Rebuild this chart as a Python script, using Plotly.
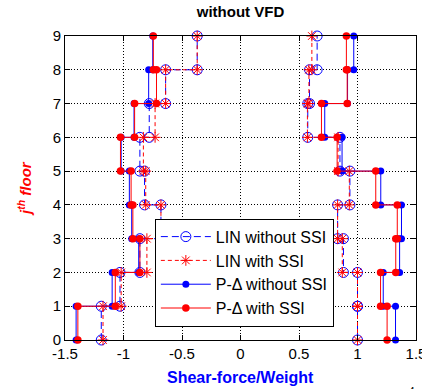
import plotly.graph_objects as go

# Storey shear envelopes (units of 1e-4 of building weight), storeys 1..9
floors = list(range(10))
x_ticks = [-1.5, -1.0, -0.5, 0.0, 0.5, 1.0, 1.5]
x_tick_labels = ["-1.5", "-1", "-0.5", "0", "0.5", "1", "1.5"]

lin_nossi_neg = [-1.19, -1.03, -0.86, -0.68, -0.82, -0.86, -0.78, -0.64, -0.37]
lin_nossi_pos = [1.00, 1.00, 0.88, 0.83, 0.935, 0.85, 0.575, 0.59, 0.655]

lin_ssi_neg = [-1.175, -1.02, -0.80, -0.68, -0.81, -0.83, -0.73, -0.64, -0.37]
lin_ssi_pos = [1.00, 1.00, 0.87, 0.83, 0.93, 0.834, 0.572, 0.585, 0.61]

pd_nossi_neg = [-1.405, -1.097, -0.87, -0.93, -0.95, -1.02, -0.91, -0.785, -0.75]
pd_nossi_pos = [1.325, 1.22, 1.36, 1.376, 1.199, 0.868, 0.72, 0.915, 0.968]

pd_ssi_neg = [-1.39, -1.07, -0.86, -0.92, -0.935, -1.026, -0.905, -0.718, -0.745]
pd_ssi_pos = [1.253, 1.197, 1.327, 1.34, 1.156, 0.826, 0.692, 0.912, 0.905]

series_names = ["LIN without SSI", "LIN with SSI", "P-\u0394 without SSI", "P-\u0394 with SSI"]

BLUE = "#0000ff"
RED = "#ff0000"
FONT = "Liberation Sans, Arial, sans-serif"


def stairs(values):
    """Each storey value is drawn as a vertical run from floor i to floor i+1."""
    xs, ys = [], []
    for i, v in enumerate(values):
        xs += [v, v]
        ys += [floors[i], floors[i + 1]]
    return xs, ys


def envelope(neg, pos):
    xn, yn = stairs(neg)
    xp, yp = stairs(pos)
    return xn + [None] + xp, yn + [None] + yp


styles = [
    dict(line=dict(color=BLUE, width=1, dash="7px,4px"),
         marker=dict(symbol="circle-open", size=10, color=BLUE, line=dict(width=1, color=BLUE))),
    dict(line=dict(color=RED, width=1, dash="4px,3px"),
         marker=dict(symbol="asterisk-open", size=9, color=RED, line=dict(width=1, color=RED))),
    dict(line=dict(color=BLUE, width=1),
         marker=dict(symbol="circle", size=7, color=BLUE)),
    dict(line=dict(color=RED, width=1),
         marker=dict(symbol="circle", size=7.5, color=RED)),
]
data = [(lin_nossi_neg, lin_nossi_pos), (lin_ssi_neg, lin_ssi_pos),
        (pd_nossi_neg, pd_nossi_pos), (pd_ssi_neg, pd_ssi_pos)]

fig = go.Figure()
for name, (neg, pos), st in zip(series_names, data, styles):
    xs, ys = envelope(neg, pos)
    fig.add_trace(go.Scatter(x=xs, y=ys, mode="lines+markers", name=name,
                             line=st["line"], marker=st["marker"], cliponaxis=False))

axis_common = dict(
    showline=True, linecolor="black", linewidth=1, mirror="ticks",
    ticks="inside", ticklen=5, tickcolor="black",
    showgrid=True, gridcolor="black", gridwidth=1, griddash="1px,2px",
    zeroline=False, tickfont=dict(family=FONT, size=15, color="black"),
    ticklabeloverflow="allow", automargin=False,
)

fig.update_layout(
    width=422, height=389,
    margin=dict(l=65, r=6, t=36, b=49, autoexpand=False),
    paper_bgcolor="white", plot_bgcolor="white",
    font=dict(family=FONT, color="black"),
    title=dict(text="<b>without VFD</b>", x=0.5, xref="paper", xanchor="center",
               y=1 - 12 / 389, yref="container", yanchor="middle",
               font=dict(family=FONT, size=15, color="black")),
    xaxis=dict(range=[-1.5, 1.5], tickvals=x_ticks, ticktext=x_tick_labels, **axis_common),
    yaxis=dict(range=[0, 9], tickvals=floors, **axis_common),
    showlegend=True,
    legend=dict(x=0.256, y=0.399, xanchor="left", yanchor="top",
                bgcolor="white", bordercolor="black", borderwidth=1,
                font=dict(family=FONT, size=16, color="black"), itemwidth=50),
    annotations=[
        dict(text="<b>Shear-force/Weight</b>", x=0.5, y=-0.122, xref="paper", yref="paper",
             xanchor="center", yanchor="middle", showarrow=False,
             font=dict(family=FONT, size=16, color=BLUE)),
        dict(text="<b><i>j<sup>th</sup> floor</i></b>", x=-0.117, y=0.5, xref="paper", yref="paper",
             xanchor="center", yanchor="middle", textangle=-90, showarrow=False,
             font=dict(family=FONT, size=15, color=RED)),
        dict(text="x 10<sup>-4</sup>", x=310 / 351, y=-0.143, xref="paper", yref="paper",
             xanchor="left", yanchor="top", showarrow=False,
             font=dict(family=FONT, size=15, color="black")),
    ],
)

fig.write_html("out.html")
